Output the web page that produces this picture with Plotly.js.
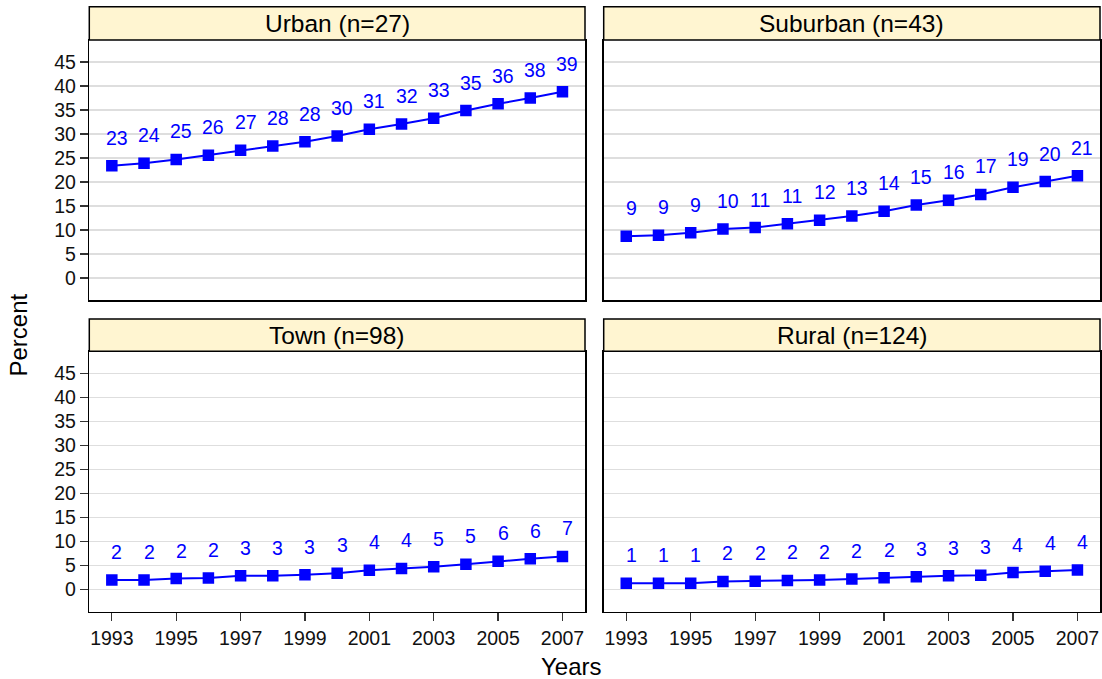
<!DOCTYPE html>
<html>
<head>
<meta charset="utf-8">
<script src="https://cdn.plot.ly/plotly-3.0.1.min.js"></script>
<style>html,body{margin:0;padding:0;background:#fff;}#chart{width:1102px;height:679px;}</style>
</head>
<body>
<div id="chart"></div>
<script>
const years = [1993,1994,1995,1996,1997,1998,1999,2000,2001,2002,2003,2004,2005,2006,2007];
const panelTitles = ["Urban (n=27)", "Suburban (n=43)", "Town (n=98)", "Rural (n=124)"];
const urban    = [23.4,23.9,24.7,25.6,26.6,27.5,28.4,29.6,31.0,32.1,33.3,34.9,36.3,37.5,38.8];
const suburban = [8.7,8.9,9.4,10.2,10.5,11.3,12.0,12.9,13.9,15.2,16.2,17.4,18.9,20.1,21.3];
const town     = [2.0,2.0,2.3,2.4,2.9,2.9,3.1,3.4,4.05,4.4,4.75,5.3,5.9,6.4,6.9];
const rural    = [1.33,1.33,1.33,1.7,1.75,1.9,2.0,2.2,2.45,2.65,2.9,3.0,3.55,3.8,4.1];
const yTicks = [0,5,10,15,20,25,30,35,40,45];
const xTicks = [1993,1995,1997,1999,2001,2003,2005,2007];

const series = [urban, suburban, town, rural];
const W = 1102, H = 679;
const FONT = "Liberation Sans, Arial, Helvetica, sans-serif";
const BLUE = "#0000FF";

// panel geometry in px
const colX = [[89.3,585],[603.7,1100]];
const rowY = [[40,300],[351.3,611.7]];
const stripY = [[6.7,40],[319,351.3]];

const traces = [];
const annotations = [];
const shapes = [];
const layout = {
  width: W, height: H,
  margin: {l:0,r:0,t:0,b:0},
  paper_bgcolor: "#fff", plot_bgcolor: "#fff",
  showlegend: false,
  font: {family: FONT, color: "#000", size: 19.5},
};

for (let k = 0; k < 4; k++) {
  const row = Math.floor(k/2), col = k%2;
  const sfx = k === 0 ? "" : String(k+1);
  const xa = "x"+sfx, ya = "y"+sfx;
  traces.push({
    x: years, y: series[k], xaxis: xa, yaxis: ya,
    type: "scatter", mode: "lines+markers",
    line: {color: BLUE, width: 2},
    marker: {symbol: "square", size: 11.5, color: BLUE},
    hoverinfo: "x+y"
  });
  layout["xaxis"+sfx] = {
    domain: [colX[col][0]/W, colX[col][1]/W],
    anchor: ya,
    range: [1992.3, 2007.7],
    tickmode: "array", tickvals: xTicks, ticktext: xTicks.map(String),
    showticklabels: row === 1,
    ticks: row === 1 ? "outside" : "",
    ticklen: 8, tickwidth: 1.3, tickcolor: "#333",
    showgrid: false, zeroline: false,
    showline: true, mirror: true, linecolor: "#000", linewidth: 1.5,
    tickfont: {family: FONT, size: 19.5, color: "#111"}
  };
  layout["yaxis"+sfx] = {
    domain: [1-rowY[row][1]/H, 1-rowY[row][0]/H],
    anchor: xa,
    range: [-4.6, 49.6],
    tickmode: "array", tickvals: yTicks, ticktext: yTicks.map(String),
    showticklabels: col === 0,
    ticks: col === 0 ? "outside" : "",
    ticklen: 8, tickwidth: 1.3, tickcolor: "#333",
    showgrid: true, gridcolor: "#dedede", gridwidth: 1.5,
    zeroline: false,
    showline: true, mirror: true, linecolor: "#000", linewidth: 1.5,
    tickfont: {family: FONT, size: 19.5, color: "#111"}
  };
  // strip
  shapes.push({
    type: "rect", xref: "paper", yref: "paper",
    x0: colX[col][0]/W, x1: colX[col][1]/W,
    y0: 1-stripY[row][1]/H, y1: 1-stripY[row][0]/H,
    fillcolor: "#FFF5D1", line: {color: "#000", width: 1.5}, layer: "above"
  });
  annotations.push({
    xref: "paper", yref: "paper",
    x: (colX[col][0]+colX[col][1])/2/W,
    y: 1-(stripY[row][0]+stripY[row][1])/2/H,
    xanchor: "center", yanchor: "middle",
    text: panelTitles[k], showarrow: false,
    font: {family: FONT, size: 24.5, color: "#000"}
  });
  // value labels
  for (let i = 0; i < years.length; i++) {
    annotations.push({
      xref: xa, yref: ya, x: years[i], y: series[k][i],
      text: String(Math.round(series[k][i])),
      showarrow: false, xanchor: "center", yanchor: "middle",
      xshift: 5, yshift: 28,
      font: {family: FONT, size: 19.5, color: BLUE}
    });
  }
}

annotations.push({
  xref: "paper", yref: "paper", x: 571/W, y: 1-666.5/H,
  xanchor: "center", yanchor: "middle", showarrow: false,
  text: "Years", font: {family: FONT, size: 24, color: "#000"}
});
annotations.push({
  xref: "paper", yref: "paper", x: 17.5/W, y: 1-335/H,
  xanchor: "center", yanchor: "middle", showarrow: false, textangle: -90,
  text: "Percent", font: {family: FONT, size: 24, color: "#000"}
});

layout.annotations = annotations;
layout.shapes = shapes;

Plotly.newPlot("chart", traces, layout, {staticPlot: true, displayModeBar: false});
</script>
</body>
</html>
